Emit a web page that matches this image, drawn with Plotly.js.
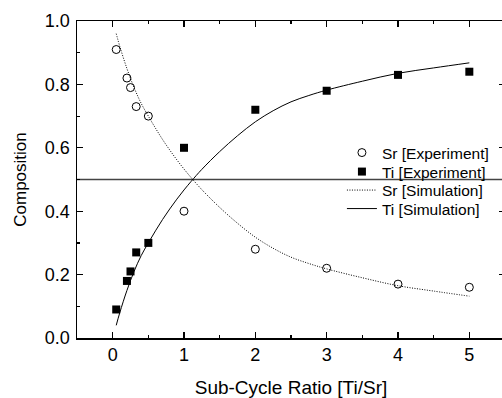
<!DOCTYPE html>
<html>
<head>
<meta charset="utf-8">
<script src="https://cdn.plot.ly/plotly-3.0.1.min.js"></script>
<style>
html, body { margin: 0; padding: 0; overflow: hidden; background: #fff; }
#chart { width: 510px; height: 398px; }
</style>
</head>
<body>
<div id="chart"></div>
<script>
// Experimental data
var ratioExp = [0.05, 0.2, 0.25, 0.33, 0.5, 1, 2, 3, 4, 5];
var srExp = [0.91, 0.82, 0.79, 0.73, 0.70, 0.40, 0.28, 0.22, 0.17, 0.16];
var tiExp = [0.09, 0.18, 0.21, 0.27, 0.30, 0.60, 0.72, 0.78, 0.83, 0.84];

// Simulation curves
var ratioSim = [0.05, 0.1, 0.2, 0.3, 0.4, 0.5, 0.6, 0.7, 0.8, 0.9, 1.0, 1.1, 1.25, 1.5, 1.75, 2.0, 2.25, 2.5, 2.75, 3.0, 3.5, 4.0, 4.5, 5.0];
var tiSim = [0.04, 0.08, 0.15, 0.21, 0.26, 0.30, 0.338, 0.374, 0.407, 0.438, 0.467, 0.494, 0.532, 0.588, 0.638, 0.682, 0.717, 0.745, 0.765, 0.782, 0.81, 0.835, 0.852, 0.868];
var srSim = [0.96, 0.92, 0.85, 0.79, 0.74, 0.70, 0.662, 0.626, 0.593, 0.562, 0.533, 0.506, 0.468, 0.412, 0.362, 0.318, 0.283, 0.255, 0.235, 0.218, 0.19, 0.165, 0.148, 0.132];

var refLevel = 0.5;
var xTickVals = [0, 1, 2, 3, 4, 5];
var yTickVals = [0.0, 0.2, 0.4, 0.6, 0.8, 1.0];
var yTickText = ['0.0', '0.2', '0.4', '0.6', '0.8', '1.0'];

var FONT = 'Arial, "Liberation Sans", Helvetica, sans-serif';
var LEG_X = 0.619;
var legFont = { family: FONT, size: 15.5, color: '#000' };
function leg(y) {
  return { x: LEG_X, y: y, xanchor: 'left', yanchor: 'middle', bgcolor: 'rgba(0,0,0,0)',
           borderwidth: 0, font: legFont };
}

var traces = [
  {
    x: ratioExp, y: srExp, name: 'Sr [Experiment]', type: 'scatter', mode: 'markers', legend: 'legend',
    marker: { symbol: 'circle-open', size: 8, color: '#000', line: { width: 1, color: '#000' } }
  },
  {
    x: ratioExp, y: tiExp, name: 'Ti [Experiment]', type: 'scatter', mode: 'markers', legend: 'legend2',
    marker: { symbol: 'square', size: 8, color: '#000' }
  },
  {
    x: ratioSim, y: srSim, name: 'Sr [Simulation]', type: 'scatter', mode: 'lines', legend: 'legend3',
    line: { color: '#000', width: 1, dash: '1px,1.5px', shape: 'spline' }
  },
  {
    x: ratioSim, y: tiSim, name: 'Ti [Simulation]', type: 'scatter', mode: 'lines', legend: 'legend4',
    line: { color: '#000', width: 1, shape: 'spline' }
  }
];

// paper y for legend rows: plot spans px 21..338
function py(px) { return (338 - px) / 317; }

var layout = {
  width: 510, height: 398,
  margin: { l: 77, r: 5, t: 21, b: 60 },
  paper_bgcolor: '#fff', plot_bgcolor: '#fff',
  font: { family: FONT, size: 17, color: '#000' },
  showlegend: true,
  legend: leg(py(153)),
  legend2: leg(py(172)),
  legend3: leg(py(190.5)),
  legend4: leg(py(209)),
  xaxis: {
    range: [-0.5, 5.5], tickvals: xTickVals,
    showline: true, linecolor: '#000', linewidth: 1.5, mirror: 'ticks',
    ticks: 'inside', ticklen: 6, tickwidth: 1.2, tickcolor: '#000',
    minor: { dtick: 0.5, tick0: 0, ticks: 'inside', ticklen: 3, tickwidth: 1.2, tickcolor: '#000' },
    showgrid: false, zeroline: false,
    tickfont: { family: FONT, size: 18 },
    title: { text: 'Sub-Cycle Ratio [Ti/Sr]', font: { family: FONT, size: 19 }, standoff: 16 }
  },
  yaxis: {
    range: [0, 1], tickvals: yTickVals, ticktext: yTickText,
    showline: true, linecolor: '#000', linewidth: 1.5, mirror: 'ticks',
    ticks: 'inside', ticklen: 6, tickwidth: 1.2, tickcolor: '#000',
    minor: { dtick: 0.1, tick0: 0, ticks: 'inside', ticklen: 3, tickwidth: 1.2, tickcolor: '#000' },
    showgrid: false, zeroline: false,
    ticklabelstandoff: 2,
    tickfont: { family: FONT, size: 18 },
    title: { text: 'Composition', font: { family: FONT, size: 17 }, standoff: 14 }
  },
  shapes: [
    { type: 'line', xref: 'paper', yref: 'y', x0: 0, x1: 1, y0: refLevel, y1: refLevel,
      line: { color: '#444', width: 1.5 }, layer: 'below' }
  ]
};

Plotly.newPlot('chart', traces, layout, { staticPlot: true, displayModeBar: false });
</script>
</body>
</html>
